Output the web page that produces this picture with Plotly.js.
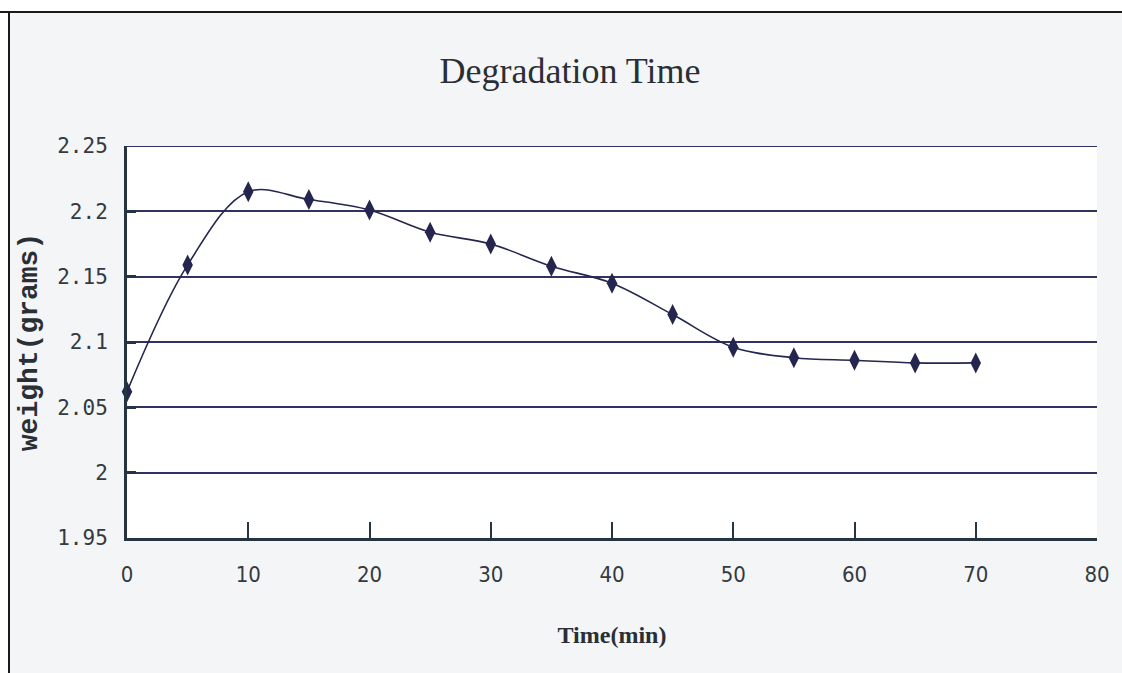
<!DOCTYPE html>
<html>
<head>
<meta charset="utf-8">
<script src="https://cdn.plot.ly/plotly-3.0.1.min.js"></script>
<style>
  html, body { margin: 0; padding: 0; background: #ffffff; }
  #wrap { position: relative; width: 1122px; height: 673px; overflow: hidden; }
  #chart { position: absolute; left: 0; top: 0; width: 1122px; height: 673px; }
  #frameTop { position: absolute; left: 0; top: 0; width: 1122px; height: 11px; background: #ffffff; border-bottom: 2px solid #1a1a1a; }
  #frameLeft { position: absolute; left: 0; top: 13px; width: 8px; height: 660px; background: #ffffff; border-right: 2px solid #1a1a1a; }
</style>
</head>
<body>
<div id="wrap">
  <div id="chart"></div>
  <div id="frameTop"></div>
  <div id="frameLeft"></div>
</div>
<script>
const timeMin = [0, 5, 10, 15, 20, 25, 30, 35, 40, 45, 50, 55, 60, 65, 70];
const weightGrams = [2.062, 2.159, 2.215, 2.209, 2.201, 2.184, 2.175, 2.158, 2.145, 2.121, 2.096, 2.088, 2.086, 2.084, 2.084];
const xTicks = [0, 10, 20, 30, 40, 50, 60, 70, 80];
const yTicks = [1.95, 2, 2.05, 2.1, 2.15, 2.2, 2.25];
const yTickText = ['1.95', '2', '2.05', '2.1', '2.15', '2.2', '2.25'];

const navy = '#24264f';
const gridNavy = '#30325f';
const narrow = '"DejaVu Sans Condensed", "DejaVu Sans", sans-serif';
const mono = '"DejaVu Sans Mono", "Liberation Mono", monospace';
const serif = '"Liberation Serif", "DejaVu Serif", serif';

const trace = {
  x: timeMin,
  y: weightGrams,
  type: 'scatter',
  mode: 'lines+markers',
  line: { color: navy, width: 1.6, shape: 'spline', smoothing: 1 },
  marker: { symbol: 'diamond-tall', size: 15, color: navy },
  cliponaxis: false,
  hoverinfo: 'x+y'
};

const layout = {
  width: 1122,
  height: 673,
  margin: { l: 127, r: 25, t: 146, b: 135 },
  paper_bgcolor: '#f4f5f7',
  plot_bgcolor: '#ffffff',
  showlegend: false,
  title: {
    text: 'Degradation Time',
    font: { family: serif, size: 36, color: '#2a2f36' },
    x: 0.508, xref: 'container', xanchor: 'center',
    y: 0.896, yref: 'container', yanchor: 'middle'
  },
  shapes: [{
    type: 'line', xref: 'paper', x0: 0, x1: 1,
    yref: 'y', y0: yTicks[yTicks.length - 1], y1: yTicks[yTicks.length - 1],
    line: { color: gridNavy, width: 2 }, layer: 'above'
  }],
  xaxis: {
    range: [0, 80],
    tickvals: xTicks,
    ticktext: xTicks.map(String),
    showgrid: false,
    zeroline: false,
    showline: true,
    linecolor: '#263340',
    linewidth: 3,
    ticks: 'inside',
    ticklen: 16,
    tickwidth: 2,
    tickcolor: '#263340',
    ticklabelstandoff: 15,
    tickfont: { family: narrow, size: 22, color: '#333a40' },
    title: {
      text: '<b>Time(min)</b>',
      font: { family: serif, size: 24, color: '#2a2f36' },
      standoff: 40
    },
    fixedrange: true
  },
  yaxis: {
    range: [1.95, 2.25],
    tickvals: yTicks,
    ticktext: yTickText,
    showgrid: true,
    gridcolor: gridNavy,
    gridwidth: 2,
    zeroline: false,
    showline: true,
    linecolor: '#263340',
    linewidth: 3,
    ticks: 'inside',
    ticklen: 9,
    tickwidth: 3,
    tickcolor: '#263340',
    ticklabelstandoff: 12,
    tickfont: { family: mono, size: 21, color: '#333a40' },
    title: {
      text: '<b>weight(grams)</b>',
      font: { family: '"Liberation Mono", "DejaVu Sans Mono", monospace', size: 28, color: '#2a2f36' },
      standoff: 12
    },
    fixedrange: true
  }
};

Plotly.newPlot('chart', [trace], layout, { displayModeBar: false, staticPlot: true });
</script>
</body>
</html>
